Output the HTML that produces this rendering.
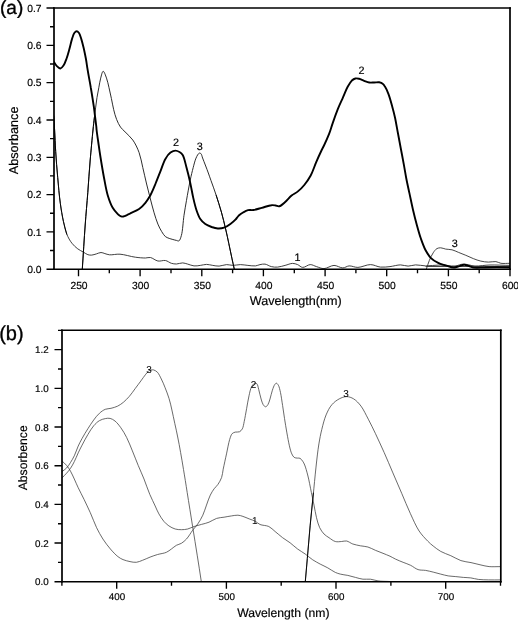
<!DOCTYPE html>
<html><head><meta charset="utf-8"><title>Absorbance spectra</title>
<style>html,body{margin:0;padding:0;background:#fff}svg{display:block}</style></head>
<body>
<svg width="518" height="620" viewBox="0 0 518 620">
<rect width="518" height="620" fill="#fff"/>
<g font-family="Liberation Sans, Arial, sans-serif" fill="#000" stroke="#000" stroke-width="0.18" text-rendering="geometricPrecision">
<g fill="none" stroke-linejoin="round" stroke-linecap="round">
<clipPath id="ca"><rect x="54.0" y="8.0" width="456.0" height="262.0"/></clipPath>
<g clip-path="url(#ca)">
<path d="M53.7,116.0 C54.0,120.7 54.3,124.8 54.6,130.0 C55.0,136.4 55.2,144.1 55.7,151.6 C56.2,159.8 56.9,168.8 57.7,177.4 C58.5,186.0 59.2,195.4 60.3,203.2 C61.2,209.8 62.2,215.8 63.4,221.3 C64.4,226.0 65.2,230.4 66.8,234.2 C68.2,237.6 69.9,240.7 71.9,243.2 C73.7,245.5 75.8,247.4 77.8,248.9 C79.6,250.2 81.5,251.0 83.2,252.0 C84.8,252.9 86.4,254.2 87.9,254.7 C89.2,255.1 90.4,255.2 91.7,255.1 C93.2,255.0 94.8,254.3 96.4,253.9 C97.9,253.5 99.5,252.5 101.0,252.5 C102.4,252.5 103.5,253.2 104.9,253.6 C106.4,254.0 107.6,254.6 109.5,254.8 C112.3,255.1 116.2,253.9 120.0,254.2 C124.6,254.5 130.7,256.6 135.3,257.2 C139.0,257.7 142.6,258.0 145.4,258.0 C147.4,258.0 148.6,257.2 150.4,257.5 C152.7,257.9 155.3,260.5 157.9,261.0 C160.3,261.5 163.1,260.1 165.4,260.5 C167.6,260.9 169.4,262.7 171.4,263.3 C173.1,263.8 174.6,264.0 176.4,264.0 C178.4,264.0 180.7,262.8 182.7,262.9 C184.5,263.0 185.9,263.6 187.7,264.1 C189.7,264.6 191.9,265.7 194.0,265.9 C196.1,266.1 198.2,265.7 200.3,265.4 C202.4,265.2 204.4,264.4 206.5,264.4 C208.6,264.4 210.7,265.1 212.8,265.4 C214.9,265.7 216.9,266.2 219.1,266.1 C221.5,266.0 224.2,264.7 226.6,264.6 C228.8,264.5 230.7,265.4 232.9,265.4 C235.3,265.4 237.9,264.6 240.4,264.6 C242.9,264.6 245.4,265.2 247.9,265.4 C250.4,265.6 253.3,266.1 255.5,265.9 C257.2,265.7 258.4,264.9 260.0,264.6 C261.6,264.3 263.3,263.9 265.0,264.1 C267.0,264.4 269.2,266.1 271.3,266.6 C273.4,267.1 275.4,267.3 277.6,267.1 C280.0,266.9 282.6,266.0 285.1,265.4 C287.6,264.8 290.3,263.4 292.6,263.4 C294.4,263.4 296.0,264.0 297.6,264.6 C299.3,265.3 300.8,267.3 302.7,267.4 C304.9,267.6 307.8,264.7 310.2,264.6 C312.4,264.5 314.3,266.0 316.5,266.6 C318.9,267.3 321.3,268.7 324.0,268.6 C327.1,268.5 330.8,265.5 334.0,265.4 C337.0,265.4 340.1,267.9 342.8,267.9 C345.1,267.9 346.8,266.1 349.1,265.9 C351.8,265.7 354.7,267.5 357.9,267.4 C361.7,267.3 366.5,264.6 370.4,264.6 C374.0,264.6 377.2,266.8 380.5,267.1 C383.7,267.4 386.8,266.9 390.0,266.6 C393.4,266.2 397.3,264.9 400.5,264.9 C403.2,264.9 405.6,266.1 408.1,266.1 C410.6,266.1 412.9,265.0 415.6,264.9 C418.7,264.8 422.0,265.8 425.6,265.9 C430.0,266.0 435.2,265.0 440.0,265.0 C444.9,265.0 450.8,266.3 455.0,266.0 C458.2,265.7 460.3,264.2 463.3,264.1 C466.9,264.0 470.8,265.8 475.0,266.0 C479.7,266.2 484.6,265.1 490.0,265.0 C496.2,264.9 503.3,265.3 510.0,265.4" stroke="#2a2a2a" stroke-width="0.9"/>
<path d="M53.7,116.0 C54.0,120.7 54.3,124.8 54.6,130.0 C55.0,136.4 55.2,144.1 55.7,151.6 C56.2,159.8 56.9,168.8 57.7,177.4 C58.5,186.0 59.2,195.4 60.3,203.2 C61.2,209.8 62.2,215.8 63.4,221.3 C64.4,226.0 65.7,229.9 66.8,234.2" stroke="#000" stroke-width="0.95"/>
<path d="M426.0,266.5 L510.0,266.5" stroke="#333" stroke-width="0.9"/>
<path d="M82.3,269.1 C83.3,254.4 84.2,238.6 85.2,225.0 C86.0,213.3 87.0,203.3 87.8,192.5 C88.6,181.7 89.3,170.6 90.2,160.0 C91.1,149.8 92.2,137.9 93.0,130.0 C93.5,124.9 93.9,121.4 94.4,117.4 C94.8,113.8 95.3,110.5 95.7,107.1 C96.1,103.8 96.5,100.6 97.0,97.4 C97.5,94.2 98.2,90.9 98.8,87.7 C99.4,84.5 99.9,81.0 100.7,78.1 C101.4,75.6 102.2,71.3 103.2,71.3 C104.2,71.3 105.6,75.6 106.5,78.1 C107.6,81.0 108.2,84.4 109.0,87.7 C109.8,91.2 110.6,94.9 111.4,98.5 C112.2,102.2 112.8,106.1 113.7,109.7 C114.5,113.1 115.4,116.4 116.6,119.4 C117.7,122.2 119.0,124.9 120.5,127.1 C121.8,129.0 123.3,130.0 125.0,131.8 C127.2,134.2 130.5,136.8 132.8,140.0 C135.3,143.6 137.5,148.1 139.1,152.6 C140.8,157.3 141.6,162.5 142.8,167.6 C144.1,172.9 145.3,178.7 146.6,184.0 C147.8,189.1 149.1,194.1 150.4,199.0 C151.6,203.7 152.8,208.4 154.1,212.8 C155.3,216.8 156.5,220.8 157.9,224.1 C159.1,226.9 160.3,229.4 161.7,231.6 C162.9,233.5 164.0,235.4 165.4,236.6 C166.6,237.5 167.7,237.8 169.2,238.4 C171.2,239.1 174.6,240.0 176.4,240.4 C177.4,240.6 178.2,241.3 178.9,240.9 C180.0,240.3 180.7,237.9 181.4,235.4 C182.7,230.9 183.1,221.5 184.0,215.3 C184.8,209.9 185.6,205.7 186.5,200.3 C187.6,194.1 189.0,186.1 190.2,180.2 C191.2,175.5 192.2,171.4 193.2,167.6 C194.0,164.4 194.8,161.3 195.7,158.9 C196.4,157.2 197.1,155.6 197.8,154.6 C198.2,154.0 198.5,153.7 198.9,153.4 C199.2,153.2 199.6,152.9 200.0,153.0 C200.4,153.1 200.8,153.5 201.2,154.0 C201.8,154.8 202.0,156.4 202.6,158.0 C203.4,160.2 204.5,162.9 205.7,166.0 C207.3,170.1 209.3,175.7 211.0,180.6 C212.8,185.5 214.5,190.2 216.2,195.3 C218.0,200.7 219.8,206.5 221.4,212.1 C223.0,217.7 224.3,223.5 225.6,228.9 C226.8,233.9 227.8,238.6 228.8,243.5 C229.9,248.4 230.9,253.7 231.9,258.2 C232.7,262.1 233.5,265.5 234.3,269.2" stroke="#222" stroke-width="0.95"/>
<path d="M82.3,269.1 C83.3,254.4 84.2,238.6 85.2,225.0 C86.0,213.3 87.0,203.3 87.8,192.5 C88.6,181.7 89.3,170.6 90.2,160.0 C91.1,149.8 92.2,137.9 93.0,130.0 C93.5,124.9 93.9,121.6 94.4,117.4" stroke="#000" stroke-width="0.95"/>
<path d="M216.2,195.3 C217.9,200.9 219.8,206.5 221.4,212.1 C223.0,217.7 224.3,223.5 225.6,228.9 C226.8,233.9 227.8,238.6 228.8,243.5 C229.9,248.4 230.9,253.7 231.9,258.2 C232.7,262.1 233.5,265.5 234.3,269.2" stroke="#000" stroke-width="0.95"/>
<path d="M426.4,269.0 C427.4,266.1 428.2,263.1 429.4,260.3 C430.5,257.7 431.8,254.9 433.2,252.8 C434.3,251.1 435.5,249.4 436.9,248.6 C438.1,247.9 439.4,247.8 440.7,247.8 C442.3,247.8 443.9,248.8 445.7,249.1 C447.7,249.5 449.9,249.3 452.0,249.8 C454.1,250.3 456.1,251.4 458.3,252.3 C460.7,253.3 463.3,254.3 465.8,255.3 C468.3,256.4 470.8,257.6 473.3,258.6 C475.8,259.6 478.3,260.5 480.8,261.1 C483.3,261.7 485.9,262.0 488.4,262.1 C490.9,262.2 493.7,261.3 495.9,261.6 C497.8,261.8 499.0,263.0 500.9,263.3 C503.5,263.7 507.0,263.3 510.0,263.3" stroke="#333" stroke-width="0.9"/>
<path d="M54.0,62.0 C54.8,63.2 55.5,64.6 56.5,65.7 C57.6,66.8 59.2,68.6 60.4,68.5 C61.5,68.4 62.6,66.8 63.5,65.5 C64.7,63.8 65.6,61.2 66.5,58.7 C67.6,55.8 68.5,52.2 69.4,49.0 C70.3,45.8 71.0,42.3 71.9,39.4 C72.7,37.0 73.3,34.4 74.3,33.0 C75.0,32.1 75.9,31.2 76.7,31.2 C77.5,31.2 78.3,32.1 79.0,33.0 C80.0,34.4 80.6,37.0 81.4,39.4 C82.3,42.3 83.1,45.8 83.9,49.0 C84.6,52.2 85.3,55.5 85.9,58.7 C86.5,61.9 86.9,65.2 87.4,68.4 C87.9,71.6 88.5,74.9 89.1,78.1 C89.7,81.3 90.3,84.5 90.8,87.7 C91.4,90.9 91.9,94.2 92.4,97.4 C92.9,100.6 93.4,103.9 93.9,107.1 C94.3,110.3 94.7,113.6 95.1,116.8 C95.5,120.0 96.0,124.1 96.3,126.5 C96.5,128.0 96.4,128.5 96.6,130.0 C96.9,133.0 97.8,138.7 98.4,143.0 C99.0,147.3 99.5,151.1 100.3,156.0 C101.3,162.3 102.7,170.9 104.0,177.7 C105.2,183.9 106.1,189.9 107.7,195.2 C109.1,199.8 110.7,204.4 112.7,207.8 C114.2,210.4 116.4,212.7 117.8,214.1 C118.6,214.9 119.1,215.3 119.8,215.7 C120.5,216.1 121.2,216.5 122.0,216.6 C122.8,216.7 123.7,216.4 124.6,216.1 C125.5,215.8 126.4,215.3 127.3,214.9 C128.3,214.4 129.0,213.9 130.3,213.3 C132.5,212.2 136.5,210.8 139.1,209.0 C141.5,207.3 143.5,205.1 145.4,202.8 C147.3,200.5 148.8,198.0 150.4,195.2 C152.2,191.9 153.8,187.9 155.4,184.0 C157.1,179.9 158.7,175.6 160.4,171.4 C162.1,167.2 163.4,162.2 165.4,158.9 C166.9,156.3 168.6,154.0 170.5,152.6 C172.0,151.5 173.9,150.6 175.5,150.6 C176.9,150.6 178.3,151.3 179.5,152.0 C180.7,152.7 181.8,153.5 182.7,155.0 C184.3,157.6 185.3,163.1 186.5,167.5 C187.8,172.3 189.1,177.6 190.2,182.6 C191.3,187.6 192.1,192.8 193.2,197.6 C194.2,202.0 195.2,206.4 196.5,210.2 C197.6,213.4 198.7,216.6 200.3,219.0 C201.7,221.1 203.4,222.7 205.3,224.0 C207.2,225.3 209.5,226.2 211.6,227.0 C213.6,227.7 215.7,228.4 217.8,228.5 C219.9,228.6 222.1,228.4 224.1,227.7 C226.3,227.0 228.5,225.4 230.4,224.0 C232.2,222.7 234.0,221.2 235.4,219.7 C236.6,218.4 237.3,217.0 238.5,215.8 C239.8,214.6 241.4,213.4 243.0,212.5 C244.6,211.6 246.3,210.6 248.0,210.2 C249.7,209.8 251.4,210.3 253.4,210.0 C255.9,209.6 258.9,208.6 261.8,207.8 C264.9,207.0 268.8,205.4 271.4,205.2 C273.1,205.0 274.3,205.3 275.6,205.5 C276.9,205.7 278.0,206.6 279.3,206.3 C281.1,205.9 283.3,203.7 285.2,202.0 C287.4,200.1 289.4,197.4 291.6,195.6 C293.6,193.9 295.9,193.1 297.9,191.4 C300.1,189.6 302.3,187.5 304.3,185.0 C306.6,182.2 308.8,179.0 310.7,175.5 C312.8,171.6 314.2,166.9 316.0,162.7 C317.8,158.4 320.2,153.1 321.7,150.0 C322.6,148.1 323.1,147.4 324.0,145.5 C325.4,142.6 327.5,138.0 329.0,134.2 C330.5,130.5 331.4,126.8 332.8,122.9 C334.3,118.5 336.1,113.4 337.8,109.1 C339.4,105.1 341.1,101.6 342.8,97.8 C344.5,94.0 346.1,89.6 347.8,86.5 C349.1,84.2 350.2,82.2 351.6,80.8 C352.8,79.7 354.1,78.8 355.4,78.5 C356.6,78.2 357.8,78.5 359.1,78.8 C360.7,79.2 362.4,80.2 364.1,80.8 C365.8,81.4 367.5,82.2 369.2,82.5 C370.9,82.8 372.5,82.5 374.2,82.5 C375.9,82.5 377.7,82.0 379.2,82.3 C380.6,82.6 382.0,83.2 383.0,84.0 C383.8,84.6 384.2,85.3 384.8,86.3 C385.9,88.0 387.3,90.9 388.4,93.8 C389.8,97.4 391.1,102.3 392.2,106.4 C393.3,110.3 394.2,113.8 395.1,118.0 C396.1,122.8 397.0,128.3 398.0,133.5 C399.0,138.7 399.9,143.8 400.9,149.0 C401.9,154.1 402.9,159.4 403.8,164.4 C404.7,169.2 405.4,173.8 406.3,178.5 C407.2,183.2 408.2,187.6 409.3,192.6 C410.5,198.1 411.8,204.6 413.1,210.2 C414.3,215.4 415.6,220.4 416.9,225.2 C418.1,229.6 419.2,233.6 420.6,237.8 C422.1,242.0 423.7,246.7 425.6,250.3 C427.2,253.2 428.6,255.7 430.7,257.8 C432.8,259.9 435.6,261.6 438.2,262.9 C440.6,264.1 443.1,264.6 445.7,265.4 C448.3,266.2 451.4,267.6 453.7,267.6 C455.4,267.6 456.4,266.9 458.0,266.5 C459.9,266.0 462.4,264.8 464.3,264.8 C466.0,264.8 467.4,265.5 469.0,266.0 C470.6,266.5 472.0,267.3 474.0,267.6 C476.9,268.0 481.3,267.5 485.0,267.5 C488.9,267.4 492.9,267.3 497.0,267.3 C501.2,267.3 505.7,267.4 510.0,267.5" stroke="#000" stroke-width="1.9"/>
</g></g>
<g stroke="#000" fill="none">
<path d="M54.0,7.3 V269.9 M510.0,7.3 V269.9" stroke-width="1.7"/>
<path d="M53.1,8.0 H510.9 M53.1,269.2 H510.9" stroke-width="1.4"/>
<path d="M46.5,269.2H54.0M50.0,250.5H54.0M46.5,231.9H54.0M50.0,213.2H54.0M46.5,194.6H54.0M50.0,175.9H54.0M46.5,157.3H54.0M50.0,138.6H54.0M46.5,120.0H54.0M50.0,101.3H54.0M46.5,82.6H54.0M50.0,64.0H54.0M46.5,45.3H54.0M50.0,26.7H54.0M46.5,8.0H54.0M78.5,269.2V276.2M109.3,269.2V273.2M140.1,269.2V276.2M171.0,269.2V273.2M201.8,269.2V276.2M232.6,269.2V273.2M263.4,269.2V276.2M294.3,269.2V273.2M325.1,269.2V276.2M355.9,269.2V273.2M386.7,269.2V276.2M417.5,269.2V273.2M448.4,269.2V276.2M479.2,269.2V273.2M510.0,269.2V276.2" stroke-width="1.35"/>
</g>
<g font-size="10.3px" text-anchor="end">
<text x="41.6" y="272.8">0.0</text>
<text x="41.6" y="235.5">0.1</text>
<text x="41.6" y="198.2">0.2</text>
<text x="41.6" y="160.9">0.3</text>
<text x="41.6" y="123.6">0.4</text>
<text x="41.6" y="86.2">0.5</text>
<text x="41.6" y="48.9">0.6</text>
<text x="41.6" y="11.6">0.7</text>
</g>
<g font-size="10.3px" text-anchor="middle">
<text x="79.0" y="288.8">250</text>
<text x="140.6" y="288.8">300</text>
<text x="202.3" y="288.8">350</text>
<text x="263.9" y="288.8">400</text>
<text x="325.6" y="288.8">450</text>
<text x="387.2" y="288.8">500</text>
<text x="448.9" y="288.8">550</text>
<text x="510.5" y="288.8">600</text>
</g>
<text font-size="12.7px" text-anchor="middle" transform="translate(18.3,140.4) rotate(-90)">Absorbance</text>
<text font-size="12.6px" text-anchor="middle" x="295.8" y="305">Wavelength(nm)</text>
<text font-size="19px" stroke-width="0.35" x="0" y="14">(a)</text>
<g font-size="10.8px" text-anchor="middle">
<text x="176" y="146.3">2</text>
<text x="199.8" y="150.1">3</text>
<text x="361.4" y="73.6">2</text>
<text x="297.6" y="260.7">1</text>
<text x="454.7" y="246.7">3</text>
</g>
<g fill="none" stroke-linejoin="round" stroke-linecap="round">
<clipPath id="cb"><rect x="62.0" y="330.2" width="438.8" height="252.30000000000007"/></clipPath>
<g clip-path="url(#cb)">
<path d="M62.0,477.9 C63.5,476.3 65.2,474.8 66.6,473.2 C68.0,471.6 69.3,470.1 70.5,468.3 C71.9,466.3 73.1,464.0 74.3,461.6 C75.7,458.9 76.9,455.7 78.2,452.9 C79.5,450.2 80.6,447.9 82.1,445.1 C83.8,441.8 85.9,437.8 87.9,434.5 C89.8,431.4 91.6,428.2 93.7,425.8 C95.5,423.7 97.4,421.8 99.5,420.6 C101.3,419.5 103.4,419.0 105.3,418.6 C107.0,418.3 108.5,418.0 110.1,418.4 C111.8,418.8 113.4,419.7 115.0,421.0 C117.0,422.6 119.0,425.2 120.8,427.7 C122.9,430.6 124.8,433.8 126.6,437.4 C128.7,441.5 130.5,446.3 132.4,450.9 C134.4,455.6 136.2,460.7 138.2,465.4 C140.1,470.0 142.1,474.3 144.0,479.0 C146.0,484.0 147.8,489.7 149.8,494.4 C151.6,498.6 153.6,502.5 155.2,506.0 C156.5,508.9 157.5,511.4 158.9,513.9 C160.4,516.5 162.1,519.3 163.9,521.4 C165.5,523.2 167.0,524.6 168.9,525.9 C170.8,527.2 173.1,528.4 175.2,529.0 C177.2,529.6 179.3,529.7 181.4,529.7 C183.5,529.7 185.6,529.5 187.7,529.0 C189.8,528.5 191.8,527.2 194.0,526.5 C196.4,525.7 199.0,525.1 201.5,524.4 C204.0,523.7 206.5,523.2 209.0,522.2 C211.6,521.2 214.0,519.2 216.6,518.4 C219.0,517.6 221.6,517.6 224.1,517.2 C226.6,516.8 229.2,516.2 231.6,515.9 C233.8,515.6 235.9,515.1 237.9,515.2 C239.7,515.3 241.2,515.8 242.9,516.4 C244.9,517.0 247.1,518.1 249.2,518.9 C251.3,519.7 253.6,520.4 255.5,521.4 C257.2,522.3 258.2,523.7 260.0,524.5 C262.4,525.5 266.2,525.3 268.8,526.5 C271.2,527.7 272.9,529.7 275.1,531.5 C277.5,533.4 280.1,535.8 282.6,537.7 C285.1,539.5 287.6,541.0 290.1,542.8 C292.6,544.7 295.0,547.1 297.6,549.0 C300.1,550.8 302.7,552.2 305.2,554.0 C307.7,555.8 310.1,558.1 312.7,559.8 C315.1,561.4 317.7,562.7 320.2,564.1 C322.7,565.4 325.3,566.5 327.8,567.9 C330.3,569.3 333.0,571.3 335.3,572.4 C337.1,573.2 338.4,573.6 340.3,574.1 C342.5,574.7 345.3,574.9 347.8,575.4 C350.3,576.0 352.9,576.8 355.4,577.4 C357.9,578.0 360.4,578.9 362.9,579.2 C365.4,579.5 367.9,578.9 370.4,579.2 C372.9,579.5 375.2,580.5 378.0,580.9 C381.5,581.4 386.0,581.3 390.0,581.5" stroke="#444" stroke-width="0.8"/>
<path d="M62.0,461.0 C63.5,462.5 65.2,463.7 66.6,465.4 C68.1,467.1 69.3,469.1 70.5,471.2 C71.9,473.6 73.0,476.3 74.3,479.0 C75.6,481.8 76.7,484.6 78.2,487.7 C79.9,491.3 82.1,495.3 84.0,499.3 C86.1,503.6 88.2,508.1 90.3,512.7 C92.5,517.5 94.4,523.1 96.6,527.7 C98.6,531.8 100.6,535.4 102.9,539.0 C105.2,542.5 107.8,546.0 110.4,549.0 C112.8,551.8 115.5,554.7 117.9,556.6 C119.7,558.0 121.1,558.8 123.0,559.6 C125.1,560.5 127.7,561.1 130.0,561.6 C132.1,562.0 134.2,562.5 136.3,562.3 C138.4,562.1 140.3,561.1 142.5,560.3 C144.9,559.4 147.6,558.1 150.1,557.1 C152.6,556.1 155.0,555.3 157.6,554.5 C160.4,553.7 164.0,553.4 166.4,552.3 C168.4,551.4 169.7,550.2 171.4,549.0 C173.1,547.8 174.7,546.3 176.4,545.3 C178.0,544.4 179.8,544.3 181.4,543.3 C183.2,542.2 184.8,540.8 186.5,539.0 C188.6,536.7 190.7,532.9 192.7,530.2 C194.4,527.9 196.2,526.2 197.8,523.9 C199.6,521.3 201.4,518.3 202.8,515.2 C204.3,512.0 205.2,508.5 206.5,505.1 C207.7,501.8 208.9,498.0 210.3,495.1 C211.5,492.7 212.8,490.6 214.1,488.8 C215.3,487.2 216.6,486.3 217.8,484.6 C219.2,482.6 220.7,480.0 221.6,477.5 C222.5,474.9 222.6,472.4 223.2,469.2 C224.1,464.9 225.4,458.9 226.5,453.9 C227.6,449.0 228.5,443.1 229.7,439.4 C230.5,437.0 231.0,434.9 232.1,433.7 C233.0,432.8 234.1,432.4 235.3,432.1 C236.6,431.8 238.2,432.3 239.4,431.8 C240.6,431.3 241.5,430.2 242.3,428.9 C243.3,427.1 243.6,424.4 244.2,421.6 C245.0,417.9 245.8,413.0 246.6,408.7 C247.4,404.4 248.1,399.7 249.0,395.8 C249.8,392.5 250.3,389.1 251.5,386.9 C252.4,385.3 253.6,383.5 254.7,383.2 C255.4,383.0 256.2,383.2 256.8,383.7 C257.8,384.6 258.1,387.2 258.7,389.4 C259.5,392.2 260.2,396.2 261.1,399.0 C261.8,401.2 262.3,403.3 263.2,404.7 C263.9,405.7 264.8,406.8 265.6,406.8 C266.4,406.8 267.2,405.7 267.9,404.7 C268.8,403.3 269.3,401.1 270.0,399.0 C270.8,396.4 271.5,392.8 272.4,390.2 C273.1,388.1 273.9,385.7 274.8,384.5 C275.3,383.8 275.9,383.1 276.5,383.2 C277.1,383.3 277.8,384.3 278.4,385.3 C279.3,386.9 279.9,389.8 280.5,392.6 C281.3,396.3 281.9,401.2 282.6,405.5 C283.3,409.8 283.8,414.0 284.5,418.4 C285.2,423.1 286.1,428.2 286.9,432.9 C287.7,437.3 288.5,442.0 289.4,445.8 C290.1,448.8 290.8,451.8 291.8,453.9 C292.5,455.4 293.2,456.7 294.2,457.4 C295.1,458.0 296.4,458.0 297.4,458.1 C298.3,458.2 299.2,457.9 300.0,458.3 C301.0,458.8 301.9,460.1 302.7,461.2 C303.5,462.3 304.0,463.4 304.7,465.0 C305.7,467.5 306.7,471.2 307.7,475.0 C309.0,480.0 310.3,487.2 311.4,492.6 C312.3,497.1 313.2,500.9 314.0,505.1 C314.9,509.3 315.5,513.8 316.5,517.7 C317.4,521.3 318.3,524.8 319.7,527.7 C320.9,530.1 322.4,532.3 324.0,534.0 C325.5,535.5 327.2,536.5 329.0,537.7 C331.0,539.0 333.1,540.9 335.3,541.5 C337.3,542.1 339.6,541.6 341.6,541.5 C343.4,541.4 344.9,540.7 346.6,541.0 C348.6,541.4 350.6,543.2 352.8,544.0 C355.2,544.8 357.9,545.3 360.4,545.8 C362.9,546.3 365.4,546.3 367.9,547.0 C370.4,547.8 372.9,549.2 375.4,550.3 C377.9,551.3 380.5,552.3 383.0,553.3 C385.4,554.3 387.8,555.2 390.0,556.2 C392.0,557.1 393.5,558.2 395.5,559.1 C397.8,560.2 400.6,561.3 403.1,562.3 C405.6,563.3 408.1,564.1 410.6,565.3 C413.1,566.5 415.5,568.8 418.1,569.6 C420.5,570.4 423.1,570.0 425.6,570.4 C428.1,570.8 430.7,571.5 433.2,572.1 C435.7,572.7 438.2,573.5 440.7,574.1 C443.2,574.7 445.7,575.5 448.2,575.9 C450.7,576.3 453.3,576.3 455.8,576.6 C458.3,576.8 460.8,577.2 463.3,577.4 C465.8,577.6 468.3,577.6 470.8,577.9 C473.3,578.2 475.6,579.1 478.3,579.4 C481.4,579.8 484.9,579.8 488.4,579.9 C492.3,580.0 496.7,579.9 500.9,579.9" stroke="#444" stroke-width="0.8"/>
<path d="M62.0,471.6 C63.5,470.4 65.2,469.4 66.6,468.0 C68.1,466.4 69.3,464.5 70.5,462.5 C71.8,460.4 73.1,458.3 74.3,455.8 C75.7,452.9 76.8,449.1 78.2,446.1 C79.4,443.4 80.6,441.1 82.1,438.4 C83.8,435.3 85.9,431.8 87.9,428.7 C89.8,425.7 91.7,422.7 93.7,420.0 C95.6,417.5 97.4,415.0 99.5,413.2 C101.3,411.6 103.3,410.1 105.3,409.3 C107.1,408.6 109.0,408.8 111.0,408.3 C113.2,407.8 115.6,407.1 117.7,406.1 C119.8,405.1 121.6,403.7 123.5,402.2 C125.5,400.5 127.4,398.5 129.3,396.4 C131.3,394.1 133.2,391.3 135.1,388.7 C137.0,386.1 139.1,383.4 140.9,380.9 C142.6,378.6 144.3,376.0 145.8,374.2 C146.9,372.9 147.7,371.7 148.7,371.0 C149.5,370.5 150.2,370.2 151.0,370.0 C151.8,369.8 152.6,369.7 153.5,369.9 C154.7,370.2 156.2,371.0 157.4,372.2 C158.9,373.8 160.1,376.6 161.3,379.0 C162.7,381.7 163.9,384.6 165.1,387.7 C166.4,391.1 167.9,394.7 169.0,398.4 C170.2,402.2 171.0,406.0 171.9,410.0 C172.9,414.3 173.8,419.0 174.8,423.5 C175.8,428.0 176.8,432.3 177.7,437.0 C178.7,442.0 179.7,447.2 180.6,452.5 C181.6,458.0 182.5,463.4 183.5,469.5 C184.7,476.6 185.9,484.1 187.2,492.5 C188.8,502.7 190.9,515.5 192.6,526.4 C194.2,536.5 195.8,546.3 197.3,555.8 C198.7,564.7 200.0,572.9 201.3,581.5" stroke="#444" stroke-width="0.8"/>
<path d="M305.3,581.5 C306.0,573.9 306.6,567.0 307.3,558.6 C308.2,548.5 309.2,535.9 310.2,525.2 C311.1,515.2 312.1,505.9 313.1,496.2 C314.1,486.5 315.0,476.2 316.0,467.1 C316.9,458.9 317.8,450.7 318.9,443.9 C319.8,438.5 320.6,434.2 321.8,429.4 C323.0,424.5 324.3,419.2 326.1,414.9 C327.7,411.1 329.5,407.4 331.9,404.7 C334.0,402.2 336.6,400.3 339.2,398.9 C341.5,397.7 344.1,396.6 346.5,396.6 C348.9,396.6 351.4,397.5 353.7,398.9 C356.3,400.5 358.8,403.2 361.0,406.1 C363.7,409.7 365.9,414.7 368.3,419.2 C370.8,423.9 373.0,428.5 375.5,433.7 C378.3,439.6 381.3,446.2 384.2,452.6 C387.1,459.2 390.0,466.1 392.9,472.9 C395.8,479.7 398.8,486.5 401.7,493.3 C404.6,500.1 407.4,507.1 410.4,513.6 C413.2,519.7 415.9,526.1 419.1,531.0 C421.8,535.0 425.2,538.5 427.8,541.2 C429.7,543.2 431.2,544.4 433.2,546.0 C435.5,547.8 437.9,549.8 440.7,551.4 C443.7,553.1 447.5,554.2 450.8,555.7 C454.2,557.2 457.5,559.4 460.9,560.6 C464.2,561.7 467.6,561.9 471.0,562.6 C474.3,563.3 477.8,564.3 481.0,565.0 C483.8,565.6 486.1,566.3 489.1,566.6 C492.6,566.9 497.0,566.6 500.9,566.6" stroke="#444" stroke-width="0.8"/>
<path d="M305.3,581.5 L307.3,558.6 L310.2,525.2 L313.4,493" stroke="#000" stroke-width="0.95"/>
</g></g>
<g stroke="#000" fill="none">
<path d="M62.0,329.5 V582.4000000000001 M500.8,329.5 V582.4000000000001" stroke-width="1.7"/>
<path d="M61.1,330.2 H501.7 M61.1,581.7 H501.7" stroke-width="1.4"/>
<path d="M54.5,581.7H62.0M58.0,562.4H62.0M54.5,543.0H62.0M58.0,523.7H62.0M54.5,504.3H62.0M58.0,485.0H62.0M54.5,465.7H62.0M58.0,446.3H62.0M54.5,427.0H62.0M58.0,407.6H62.0M54.5,388.3H62.0M58.0,369.0H62.0M54.5,349.6H62.0M58.0,330.3H62.0M61.9,581.7V585.7M116.7,581.7V588.7M171.5,581.7V585.7M226.4,581.7V588.7M281.2,581.7V585.7M336.0,581.7V588.7M390.9,581.7V585.7M445.7,581.7V588.7M500.5,581.7V585.7" stroke-width="1.35"/>
</g>
<g font-size="9.8px" text-anchor="end">
<text x="48.6" y="585.3">0.0</text>
<text x="48.6" y="546.6">0.2</text>
<text x="48.6" y="507.9">0.4</text>
<text x="48.6" y="469.3">0.6</text>
<text x="48.6" y="430.6">0.8</text>
<text x="48.6" y="391.9">1.0</text>
<text x="48.6" y="353.2">1.2</text>
</g>
<g font-size="9.8px" text-anchor="middle">
<text x="117.0" y="600">400</text>
<text x="226.7" y="600">500</text>
<text x="336.3" y="600">600</text>
<text x="446.0" y="600">700</text>
</g>
<text font-size="12.2px" text-anchor="middle" transform="translate(27.2,457.8) rotate(-90)">Absorbence</text>
<text font-size="12.2px" text-anchor="middle" x="283.3" y="617.2">Wavelength (nm)</text>
<text font-size="20px" stroke-width="0.35" x="-0.8" y="339.8">(b)</text>
<g font-size="10px" text-anchor="middle" stroke-width="0.05">
<text x="149" y="373.4">3</text>
<text x="253.6" y="388">2</text>
<text x="254.8" y="524.2">1</text>
<text x="346" y="396.8">3</text>
</g>
</g></svg>
</body></html>
